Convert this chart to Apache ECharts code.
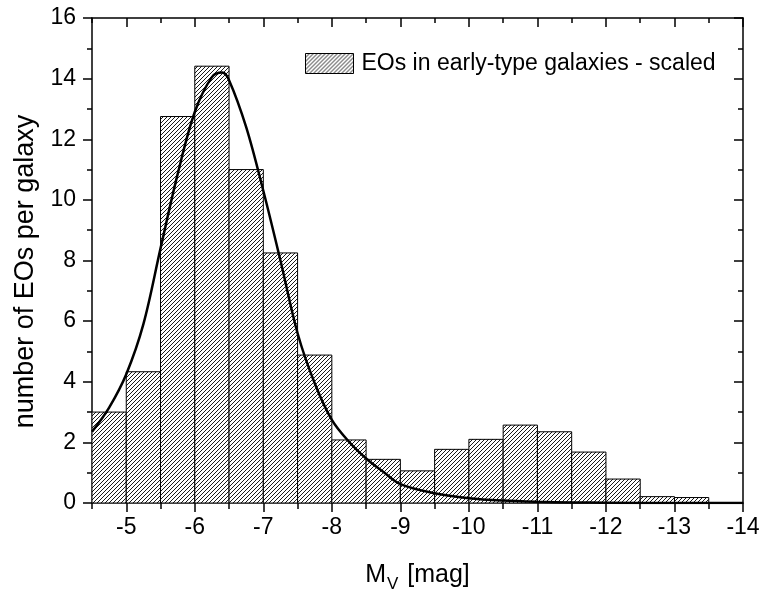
<!DOCTYPE html>
<html>
<head>
<meta charset="utf-8">
<script src="https://cdn.jsdelivr.net/npm/echarts@6/dist/echarts.min.js"></script>
<style>
html,body{margin:0;padding:0;background:#fff;}
#chart{width:762px;height:592px;}
</style>
</head>
<body>
<div id="chart"></div>
<script>
// ---- data ----
const binStart = [-4.5, -5.0, -5.5, -6.0, -6.5, -7.0, -7.5, -8.0, -8.5, -9.0, -9.5, -10.0, -10.5, -11.0, -11.5, -12.0, -12.5, -13.0];
const binEnd   = [-5.0, -5.5, -6.0, -6.5, -7.0, -7.5, -8.0, -8.5, -9.0, -9.5, -10.0, -10.5, -11.0, -11.5, -12.0, -12.5, -13.0, -13.5];
const counts   = [3.0, 4.33, 12.75, 14.41, 11.0, 8.25, 4.88, 2.08, 1.44, 1.06, 1.77, 2.10, 2.57, 2.35, 1.68, 0.79, 0.21, 0.18];
const curveX = [-4.5, -4.75, -5.0, -5.25, -5.5, -5.75, -6.0, -6.25, -6.4, -6.5, -6.75, -7.0, -7.25, -7.5, -7.75, -8.0, -8.25, -8.5, -8.75, -9.0, -9.5, -10.0, -10.5, -11.0, -11.5, -12.0, -13.0, -14.0];
const curveY = [2.35, 3.15, 4.25, 5.9, 8.4, 10.85, 12.9, 14.05, 14.2, 13.95, 12.4, 10.3, 8.0, 5.6, 3.95, 2.74, 2.02, 1.47, 1.03, 0.62, 0.32, 0.16, 0.08, 0.04, 0.02, 0.01, 0.0, 0.0];
const xMajorTicks = [-5, -6, -7, -8, -9, -10, -11, -12, -13, -14];
const xMinorTicks = [-4.5, -5.5, -6.5, -7.5, -8.5, -9.5, -10.5, -11.5, -12.5, -13.5];
const yTicks = [0, 2, 4, 6, 8, 10, 12, 14, 16];
const legendName = 'EOs in early-type galaxies - scaled';
const xTitle = ['M', 'V', ' [mag]'];
const yTitle = 'number of EOs per galaxy';

// ---- hatch pattern ----
function makeHatch() {
  const c = document.createElement('canvas');
  c.width = 4; c.height = 4;
  const g = c.getContext('2d');
  g.fillStyle = '#fff';
  g.fillRect(0, 0, 4, 4);
  g.strokeStyle = '#000';
  g.lineWidth = 0.9;
  g.beginPath();
  g.moveTo(-1, 5); g.lineTo(5, -1);
  g.moveTo(-1, 1); g.lineTo(1, -1);
  g.moveTo(3, 5); g.lineTo(5, 3);
  g.stroke();
  return { image: c, repeat: 'repeat' };
}
const hatch = makeHatch();

const FONT = "'Liberation Sans', Arial, sans-serif";
const chart = echarts.init(document.getElementById('chart'), null, { renderer: 'canvas' });

const xBase = {
  type: 'value', min: -14, max: -4.5, inverse: true,
  splitLine: { show: false },
  axisLine: { onZero: false, lineStyle: { color: '#000', width: 1.5 } }
};
const yBase = {
  type: 'value', min: 0, max: 16, interval: 2,
  splitLine: { show: false },
  axisLine: { show: true, onZero: false, lineStyle: { color: '#000', width: 1.5 } }
};

const option = {
  animation: false,
  backgroundColor: '#fff',
  textStyle: { fontFamily: FONT },
  grid: { left: 92, right: 19, top: 18, bottom: 89, containLabel: false, outerBoundsMode: 'none' },
  legend: {
    left: 305, top: 52, padding: 0,
    itemWidth: 48, itemHeight: 20,
    textStyle: { fontSize: 23, color: '#000', fontFamily: FONT, padding: [0, 0, 0, 3] },
    data: [{ name: legendName, icon: 'rect', itemStyle: { color: hatch, borderColor: '#000', borderWidth: 1 } }]
  },
  xAxis: [
    Object.assign({}, xBase, {
      position: 'bottom',
      name: '{m|' + xTitle[0] + '}{s|' + xTitle[1] + '}{m|' + xTitle[2] + '}',
      nameLocation: 'middle', nameGap: 60,
      nameTextStyle: {
        rich: {
          m: { fontSize: 25, fontFamily: FONT, color: '#000', lineHeight: 30, verticalAlign: 'top' },
          s: { fontSize: 17, fontFamily: FONT, color: '#000', lineHeight: 17, verticalAlign: 'bottom', padding: [0, 2, 0, 1] }
        }
      },
      axisTick: { show: true, inside: false, length: 9, customValues: xMajorTicks, lineStyle: { color: '#000', width: 1.5 } },
      axisLabel: { show: true, customValues: xMajorTicks, fontSize: 23, color: '#000', margin: 13, fontFamily: FONT }
    }),
    Object.assign({}, xBase, {
      position: 'bottom',
      axisLine: { show: false, onZero: false },
      axisTick: { show: true, inside: false, length: 6, customValues: xMinorTicks, lineStyle: { color: '#000', width: 1.5 } },
      axisLabel: { show: false }
    }),
    Object.assign({}, xBase, {
      position: 'top',
      axisTick: { show: true, inside: true, length: 9, customValues: xMajorTicks, lineStyle: { color: '#000', width: 1.5 } },
      axisLabel: { show: false }
    }),
    Object.assign({}, xBase, {
      position: 'top',
      axisLine: { show: false, onZero: false },
      axisTick: { show: true, inside: true, length: 5, customValues: xMinorTicks, lineStyle: { color: '#000', width: 1.5 } },
      axisLabel: { show: false }
    })
  ],
  yAxis: [
    Object.assign({}, yBase, {
      position: 'left',
      name: yTitle, nameLocation: 'middle', nameGap: 44,
      nameTextStyle: { fontSize: 27, color: '#000', fontFamily: FONT, padding: [0, 22, 0, 0] },
      axisTick: { show: true, inside: false, length: 9, lineStyle: { color: '#000', width: 1.5 } },
      minorTick: { show: true, splitNumber: 2, length: 5, lineStyle: { color: '#000', width: 1.5 } },
      axisLabel: { show: true, fontSize: 23, color: '#000', margin: 16, fontFamily: FONT,
        customValues: yTicks }
    }),
    Object.assign({}, yBase, {
      position: 'right',
      axisTick: { show: true, inside: true, length: 9, lineStyle: { color: '#000', width: 1.5 } },
      minorTick: { show: true, splitNumber: 2, length: 5, lineStyle: { color: '#000', width: 1.5 } },
      axisLabel: { show: false }
    })
  ],
  series: [
    {
      name: legendName,
      type: 'custom',
      xAxisIndex: 0, yAxisIndex: 0,
      clip: true,
      itemStyle: { color: hatch, borderColor: '#000', borderWidth: 1 },
      encode: { x: [0, 1], y: 2 },
      data: binStart.map((s, i) => [s, binEnd[i], counts[i]]),
      renderItem: function (params, api) {
        const p0 = api.coord([api.value(0), api.value(2)]);
        const p1 = api.coord([api.value(1), 0]);
        const x = Math.min(p0[0], p1[0]);
        const w = Math.abs(p1[0] - p0[0]);
        return {
          type: 'rect',
          shape: { x: x, y: p0[1], width: w, height: p1[1] - p0[1] },
          style: { fill: hatch, stroke: '#000', lineWidth: 1 }
        };
      },
      z: 2
    },
    {
      name: 'fit',
      type: 'line',
      xAxisIndex: 0, yAxisIndex: 0,
      data: curveX.map((x, i) => [x, curveY[i]]),
      smooth: 0.35,
      symbol: 'none',
      lineStyle: { color: '#000', width: 2.5 },
      z: 3
    }
  ]
};
chart.setOption(option);
</script>
</body>
</html>
